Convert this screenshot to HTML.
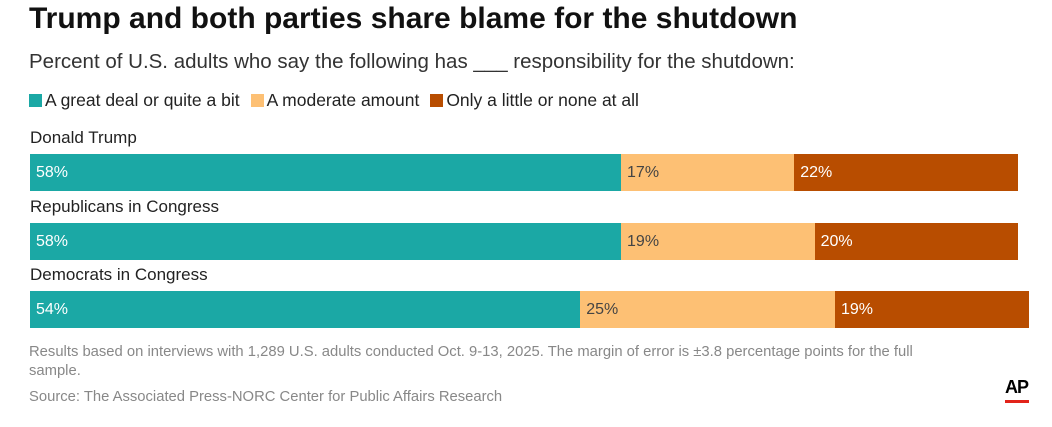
<!DOCTYPE html>
<html><head><meta charset="utf-8"><style>
body{margin:0;background:#fff;width:1052px;height:427px;overflow:hidden;font-family:"Liberation Sans",sans-serif;position:relative}
.t{position:absolute;white-space:nowrap}
.sw{display:inline-block;width:13px;height:13px;vertical-align:-1px;margin-right:3px}
.le{margin-right:11px}
</style></head><body>
<div class="t" style="left:29px;top:2px;font-size:30px;font-weight:bold;color:#111">Trump and both parties share blame for the shutdown</div>
<div class="t" style="left:29px;top:50px;font-size:20.5px;color:#333">Percent of U.S. adults who say the following has ___ responsibility for the shutdown:</div>
<div class="t" style="left:29px;top:90px;font-size:17.5px;color:#222">
<span class="le"><span class="sw" style="background:#1ba8a5"></span>A great deal or quite a bit</span><span class="le"><span class="sw" style="background:#fdc074"></span>A moderate amount</span><span><span class="sw" style="background:#b84d00"></span>Only a little or none at all</span>
</div>
<div id="chart"></div>
<div class="t" style="left:29px;top:343px;font-size:14.8px;color:#888;line-height:19px;white-space:normal;width:935px">Results based on interviews with 1,289 U.S. adults conducted Oct. 9-13, 2025. The margin of error is ±3.8 percentage points for the full sample.</div>
<div class="t" style="left:29px;top:389px;font-size:14.8px;color:#888">Source: The Associated Press-NORC Center for Public Affairs Research</div>
<div class="t" style="left:1005px;top:377px;font-size:18px;font-weight:bold;color:#000;letter-spacing:-1px">AP</div>
<div style="position:absolute;left:1005px;top:400px;width:24px;height:3px;background:#e2231a"></div>
<script>
const categories=["Donald Trump","Republicans in Congress","Democrats in Congress"];
const greatDeal=[58,58,54];
const moderate=[17,19,25];
const littleNone=[22,20,19];
const colors=["#1ba8a5","#fdc074","#b84d00"];
const textColors=["#fff","#444","#fff"];
const segNames=["great-deal","moderate","little-none"];
const x0=30,pxPer=10.19,rowTop=[154,223,291],barH=37;
const xs=v=>v*pxPer;
const chart=document.getElementById('chart');
categories.forEach((c,i)=>{
  const lab=document.createElement('div');
  lab.className='t';
  
  
  lab.style.cssText=`left:30px;top:${rowTop[i]-26}px;font-size:17px;color:#222`;
  lab.textContent=c;chart.appendChild(lab);
  let acc=0;
  [greatDeal[i],moderate[i],littleNone[i]].forEach((v,j)=>{
    const b=document.createElement('div');
    
    
    b.style.cssText=`position:absolute;left:${x0+xs(acc)}px;top:${rowTop[i]}px;width:${xs(v)}px;height:${barH}px;background:${colors[j]};color:${textColors[j]};font-size:16px;line-height:${barH}px;box-sizing:border-box;padding-left:6px`;
    b.textContent=v+'%';
    chart.appendChild(b);acc+=v;
  });
});
</script>
</body></html>
